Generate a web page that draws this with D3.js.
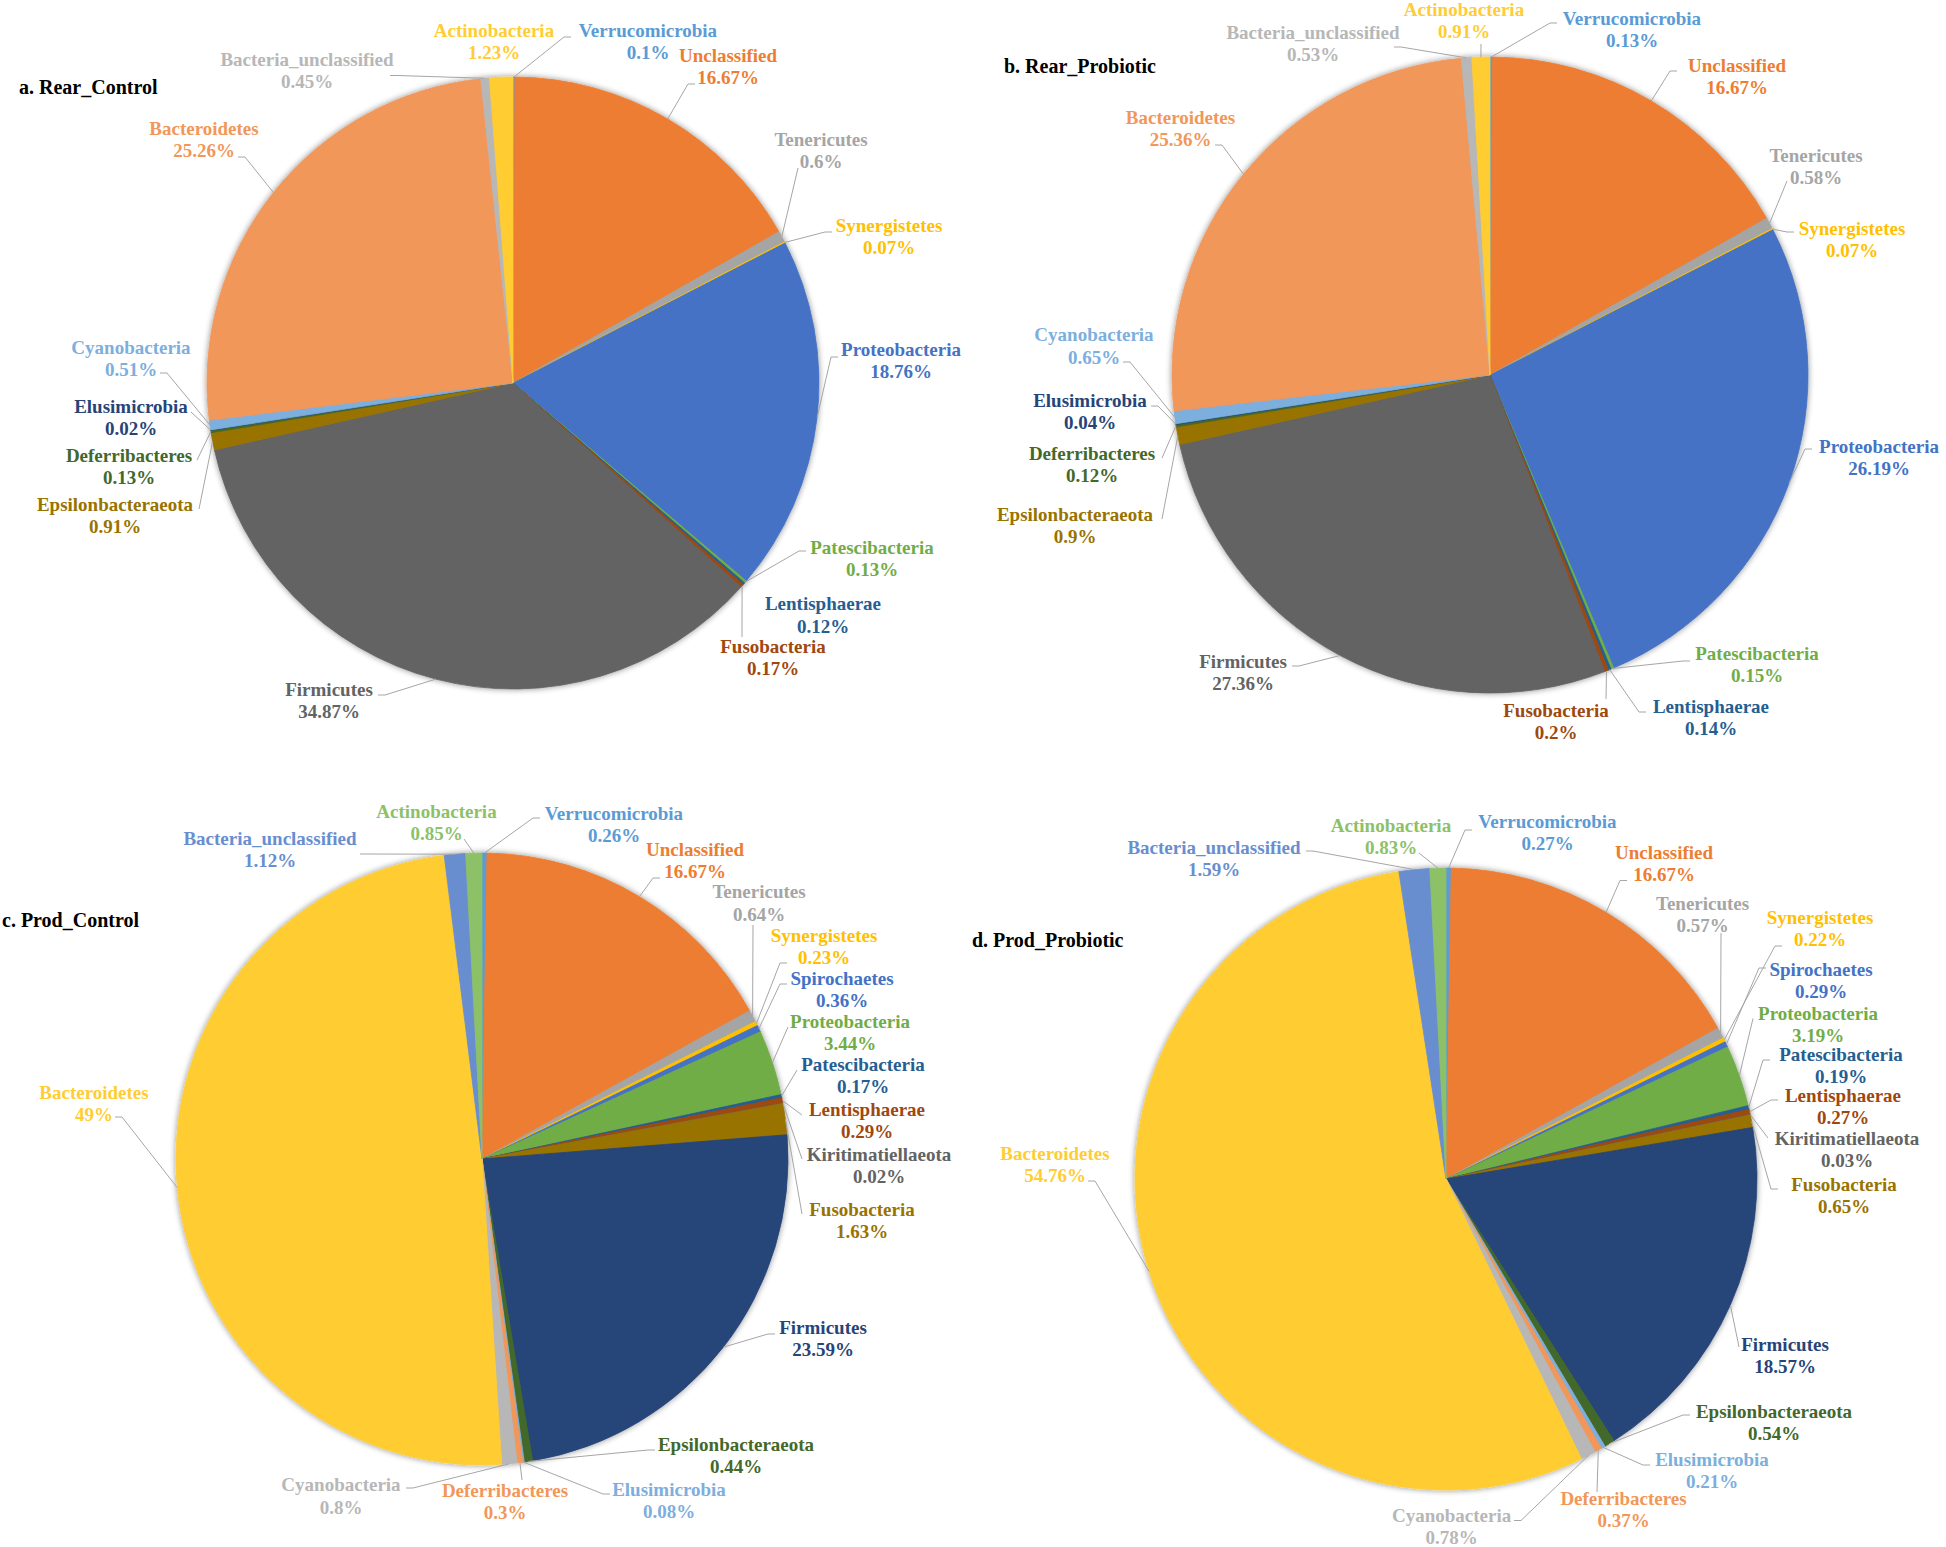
<!DOCTYPE html>
<html>
<head>
<meta charset="utf-8">
<script src="https://cdn.jsdelivr.net/npm/d3@7"></script>
<style>
  html, body { margin: 0; padding: 0; background: #fff; }
  svg { display: block; }
  text { font-family: "Liberation Serif", "Times New Roman", serif; font-weight: bold; }
</style>
</head>
<body>
<svg id="chart" width="1946" height="1547"></svg>
<script>
// ---------------- DATA ----------------
const catsRear = ["Verrucomicrobia","Unclassified","Tenericutes","Synergistetes","Proteobacteria","Patescibacteria","Lentisphaerae","Fusobacteria","Firmicutes","Epsilonbacteraeota","Deferribacteres","Elusimicrobia","Cyanobacteria","Bacteroidetes","Bacteria_unclassified","Actinobacteria"];
const rearControl   = [0.1, 16.67, 0.6, 0.07, 18.76, 0.13, 0.12, 0.17, 34.87, 0.91, 0.13, 0.02, 0.51, 25.26, 0.45, 1.23];
const rearProbiotic = [0.13, 16.67, 0.58, 0.07, 26.19, 0.15, 0.14, 0.2, 27.36, 0.9, 0.12, 0.04, 0.65, 25.36, 0.53, 0.91];

const catsProd = ["Verrucomicrobia","Unclassified","Tenericutes","Synergistetes","Spirochaetes","Proteobacteria","Patescibacteria","Lentisphaerae","Kiritimatiellaeota","Fusobacteria","Firmicutes","Epsilonbacteraeota","Elusimicrobia","Deferribacteres","Cyanobacteria","Bacteroidetes","Bacteria_unclassified","Actinobacteria"];
const prodControl   = [0.26, 16.67, 0.64, 0.23, 0.36, 3.44, 0.17, 0.29, 0.02, 1.63, 23.59, 0.44, 0.08, 0.3, 0.8, 49, 1.12, 0.85];
const prodProbiotic = [0.27, 16.67, 0.57, 0.22, 0.29, 3.19, 0.19, 0.27, 0.03, 0.65, 18.57, 0.54, 0.21, 0.37, 0.78, 54.76, 1.59, 0.83];

const panelTitles = ["a. Rear_Control", "b. Rear_Probiotic", "c. Prod_Control", "d. Prod_Probiotic"];

// ---------------- STYLES ----------------
const colorsRear = ["#5B9BD5","#ED7D31","#A5A5A5","#FFC000","#4472C4","#70AD47","#255E91","#9E480E","#636363","#997300","#43682B","#264478","#7CAFDD","#F1975A","#B7B7B7","#FFCD33"];
const colorsProd = ["#5B9BD5","#ED7D31","#A5A5A5","#FFC000","#4472C4","#70AD47","#255E91","#9E480E","#636363","#997300","#264478","#43682B","#7CAFDD","#F1975A","#B7B7B7","#FFCD33","#698ED0","#8CC168"];

// ---------------- LAYOUT (pie geometry, label placement) ----------------
const pieGeom = [
  {cx: 513, cy: 383, r: 306},
  {cx: 1490, cy: 375, r: 318},
  {cx: 482, cy: 1159, r: 306},
  {cx: 1446, cy: 1179, r: 311}
];
const titlePos = [[19, 86.5], [1004, 66], [2, 919.5], [972, 940]];

// [labelX, labelY(first line), attachX, attachY] ; attach omitted => no leader line
const layoutA = [
  [648, 30, 571, 37], [728, 55, 695, 84], [821, 139, 798, 168], [889, 225, 832, 232],
  [901, 349, 838, 357], [872, 547, 806, 551], [823, 603.5], [773, 646, 742, 637],
  [329, 689, 378, 695], [115, 504, 199, 509], [129, 455, 197, 460], [131, 406, 191, 412],
  [131, 347, 160, 373], [204, 128, 238, 157], [307, 59, 390, 75.5], [494, 30]
];
const layoutB = [
  [1632, 18, 1557, 23], [1737, 65, 1677, 71], [1816, 155, 1787, 181], [1852, 228, 1794, 232],
  [1879, 446, 1812, 449], [1757, 653, 1690, 661], [1711, 706, 1646, 712], [1556, 710, 1606, 699],
  [1243, 661, 1292, 666], [1075, 514, 1162, 519], [1092, 453, 1162, 458], [1090, 400, 1151, 406],
  [1094, 334.5, 1123, 362], [1180.5, 117, 1215, 145], [1313, 32, 1394, 47], [1464, 9, 1481, 44]
];
const layoutC = [
  [614, 813, 540, 818], [695, 849, 660, 878], [759, 891.5, 753, 925], [824, 935, 787, 963],
  [842, 978, 787, 984], [850, 1021, 788, 1027], [863, 1064, 797, 1070], [867, 1109, 802, 1115],
  [879, 1154, 802, 1159], [862, 1209, 802, 1214], [823, 1327, 775, 1334], [736, 1444, 655, 1450],
  [669, 1489, 610, 1494], [505, 1490, 522, 1480], [341, 1484.5, 406, 1488], [94, 1092, 115, 1117],
  [270, 838, 360, 854], [436.5, 811, 464, 839]
];
const layoutD = [
  [1547.5, 821, 1472, 830], [1664, 852, 1627, 880.5], [1702.6, 903, 1721, 933], [1820, 917, 1782, 946],
  [1821, 969, 1766, 968], [1818, 1013, 1753, 1018.5], [1841, 1054, 1770, 1060], [1843, 1095, 1778, 1100],
  [1847, 1138, 1768, 1138], [1844, 1184, 1778, 1189], [1785, 1344, 1739, 1347], [1774, 1411, 1690, 1415],
  [1712, 1459, 1650, 1465], [1623.5, 1498, 1597, 1492], [1451.6, 1515, 1514, 1520.5], [1055, 1153, 1088, 1181],
  [1214, 847, 1306, 851], [1391, 825, 1419, 853]
];

const panels = [
  {cats: catsRear, values: rearControl,   colors: colorsRear, layout: layoutA},
  {cats: catsRear, values: rearProbiotic, colors: colorsRear, layout: layoutB},
  {cats: catsProd, values: prodControl,   colors: colorsProd, layout: layoutC},
  {cats: catsProd, values: prodProbiotic, colors: colorsProd, layout: layoutD}
];

const FONT = 19, LINE = 22.5;

// ---------------- DRAW ----------------
const svg = d3.select("#chart");
const defs = svg.append("defs");
const filt = defs.append("filter").attr("id", "shadow")
  .attr("x", "-10%").attr("y", "-10%").attr("width", "120%").attr("height", "120%");
filt.append("feGaussianBlur").attr("in", "SourceAlpha").attr("stdDeviation", 3).attr("result", "blur");
filt.append("feComponentTransfer").attr("in", "blur").attr("result", "soft")
  .append("feFuncA").attr("type", "linear").attr("slope", 0.45);
const merge = filt.append("feMerge");
merge.append("feMergeNode").attr("in", "soft");
merge.append("feMergeNode").attr("in", "SourceGraphic");

const pieGen = d3.pie().sort(null).value(d => d.value).startAngle(0).endAngle(2 * Math.PI);

panels.forEach((p, k) => {
  const g = pieGeom[k];
  const data = p.cats.map((c, i) => ({name: c, value: p.values[i], layout: p.layout[i]}));
  const arcs = pieGen(data);
  const arcGen = d3.arc().innerRadius(0).outerRadius(g.r);
  const color = d3.scaleOrdinal().domain(p.cats).range(p.colors);

  // Title
  svg.append("text")
    .attr("x", titlePos[k][0]).attr("y", titlePos[k][1])
    .attr("dominant-baseline", "central")
    .attr("font-size", 20).attr("fill", "#000")
    .text(panelTitles[k]);

  // Slices
  const pg = svg.append("g").attr("transform", `translate(${g.cx},${g.cy})`);
  pg.append("g").attr("filter", "url(#shadow)")
    .selectAll("path").data(arcs).join("path")
    .attr("d", arcGen)
    .attr("fill", d => color(d.data.name))
    .attr("stroke", d => color(d.data.name))
    .attr("stroke-width", 0.8)
    .attr("stroke-linejoin", "round");

  // Leader lines
  const lg = svg.append("g");
  arcs.forEach(a => {
    const L = a.data.layout;
    if (L.length < 4) return;
    const mid = (a.startAngle + a.endAngle) / 2;
    const px = g.cx + g.r * Math.sin(mid);
    const py = g.cy - g.r * Math.cos(mid);
    const ax = L[2], ay = L[3];
    const pts = [[ax, ay]];
    const dx = px - ax;
    if (Math.abs(dx) > 20) pts.push([ax + Math.sign(dx) * 7, ay]);
    pts.push([px, py]);
    lg.append("path")
      .attr("d", d3.line()(pts))
      .attr("fill", "none")
      .attr("stroke", "#A6A6A6")
      .attr("stroke-width", 1);
  });

  // Labels (name line and value line as separate texts)
  const tg = svg.append("g");
  arcs.forEach(a => {
    const L = a.data.layout;
    const lines = [a.data.name, a.data.value + "%"];
    lines.forEach((s, j) => {
      tg.append("text")
        .attr("x", L[0]).attr("y", L[1] + j * LINE)
        .attr("text-anchor", "middle")
        .attr("dominant-baseline", "central")
        .attr("font-size", FONT)
        .attr("fill", color(a.data.name))
        .text(s);
    });
  });
});
</script>
</body>
</html>
